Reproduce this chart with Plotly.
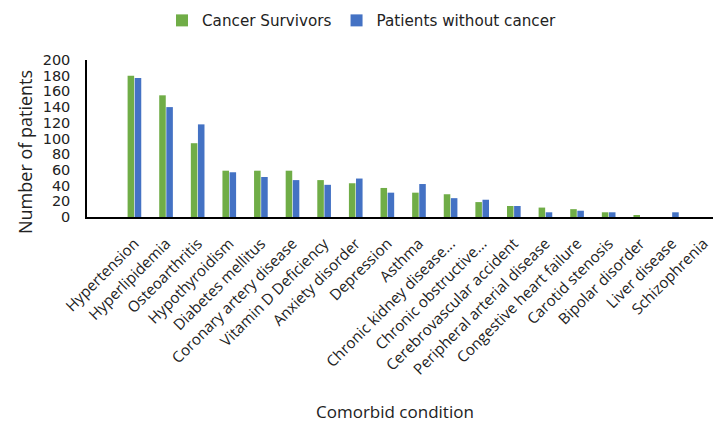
import plotly.graph_objects as go

conditions = [
    "Hypertension", "Hyperlipidemia", "Osteoarthritis", "Hypothyroidism",
    "Diabetes mellitus", "Coronary artery disease", "Vitamin D Deficiency",
    "Anxiety disorder", "Depression", "Asthma", "Chronic kidney disease...",
    "Chronic obstructive...", "Cerebrovascular accident",
    "Peripheral arterial disease", "Congestive heart failure",
    "Carotid stenosis", "Bipolar disorder", "Liver disease", "Schizophrenia",
]
cancer_survivors = [180, 155, 94, 59, 59, 59, 47, 43, 37, 31, 29, 19, 14, 12, 10, 6, 2, 0, 0]
without_cancer = [177, 140, 118, 57, 51, 47, 41, 49, 31, 42, 24, 22, 14, 6, 8, 6, 0, 6, 0]
y_ticks = list(range(0, 201, 20))

W, H = 713, 423
L, R, T, B = 87, 0, 60, 206
pw, ph = W - L - R, H - T - B

def px_x(x):
    return (x - L) / pw

def px_y(y):
    return (H - B - y) / ph

fig = go.Figure()
fig.add_bar(x=conditions, y=cancer_survivors, name="Cancer Survivors",
            marker=dict(color="#70AD47", line=dict(width=0)))
fig.add_bar(x=conditions, y=without_cancer, name="Patients without cancer",
            marker=dict(color="#4472C4", line=dict(width=0)))

fig.update_layout(
    width=W, height=H,
    margin=dict(l=L, r=R, t=T, b=B, autoexpand=False),
    paper_bgcolor="white", plot_bgcolor="white",
    barmode="group", bargap=0.55, bargroupgap=0.08,
    showlegend=True,
    legend=dict(orientation="h", x=px_x(162), y=px_y(4), xanchor="left", yanchor="top",
                font=dict(family="DejaVu Sans", size=15.2, color="#222"),
                itemwidth=30, traceorder="normal"),
    font=dict(family="Open Sans", color="#222"),
)
fig.update_xaxes(
    type="category", range=[-1.5, 18.3], showline=True, linecolor="black", linewidth=1.5,
    ticks="", tickangle=-45, tickfont=dict(family="Open Sans", size=15.2, color="#222"),
    ticklabelstandoff=10, showgrid=False, automargin=False,
)
fig.update_yaxes(
    range=[0, 200], tickvals=y_ticks, showline=True, linecolor="black", linewidth=1.5,
    ticks="", tickfont=dict(family="DejaVu Sans", size=14.5, color="#222"),
    ticklabelstandoff=12, showgrid=False, zeroline=False, automargin=False,
)
fig.add_annotation(text="Comorbid condition", xref="paper", yref="paper",
                   x=px_x(395), y=px_y(411), xanchor="center", yanchor="middle",
                   showarrow=False, font=dict(family="Open Sans", size=17, color="#222"))
fig.add_annotation(text="Number of patients", xref="paper", yref="paper",
                   x=px_x(25), y=px_y(152), xanchor="center", yanchor="middle",
                   textangle=-90, showarrow=False,
                   font=dict(family="Open Sans", size=18, color="#222"))

fig.write_html("out.html")
